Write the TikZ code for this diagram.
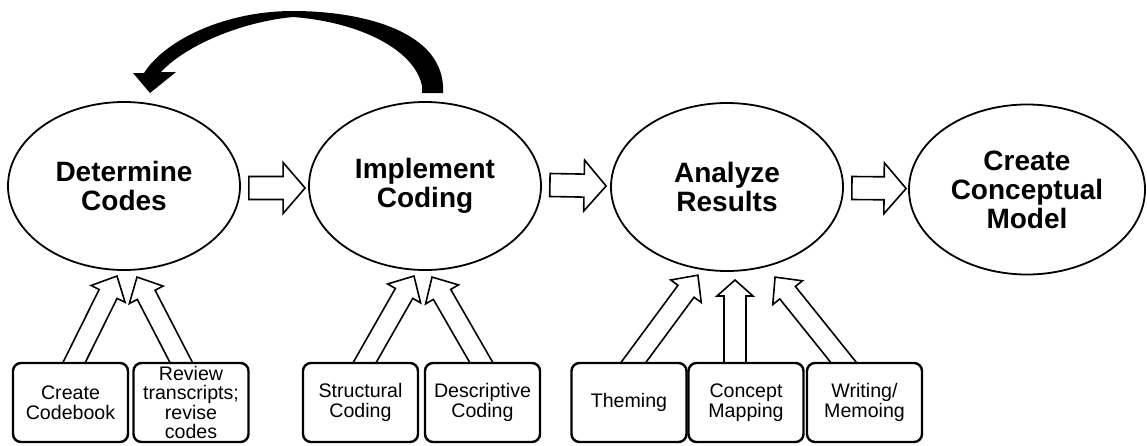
\documentclass[tikz,border=0pt]{standalone}
\usepackage{fontspec}
\setmainfont{Liberation Sans}
\usetikzlibrary{shapes.geometric,calc,backgrounds}

\tikzset{
  stage/.style={ellipse, draw=black, line width=0.9pt, minimum width=116pt, minimum height=84pt,
    inner sep=1pt, align=center, font=\fontsize{14}{14.5}\selectfont\bfseries},
  task/.style={draw=black, fill=white, line width=1.2pt, rounded corners=4pt, minimum width=57.5pt,
    minimum height=39.5pt, inner sep=0pt, align=center, font=\fontsize{9.8}{9.8}\selectfont},
  hollow/.style={draw=black, fill=white, line width=0.8pt, line join=miter},
}

% #1 from, #2 to, #3 half shaft, #4 half head, #5 head length
\newcommand{\hollowarrow}[5]{%
  \path[hollow] let \p1=(#1), \p2=(#2), \n1={atan2(\y2-\y1,\x2-\x1)}, \n2={veclen(\x2-\x1,\y2-\y1)} in
    [shift={(\p1)}, rotate=\n1]
    (0pt,-#3) -- (\n2-#5,-#3) -- (\n2-#5,-#4) -- (\n2,0pt) -- (\n2-#5,#4) -- (\n2-#5,#3) -- (0pt,#3) -- cycle;
}

\begin{document}
\begin{tikzpicture}[x=0.5pt,y=-0.5pt]
\useasboundingbox (0,0) rectangle (1147,445);

%Determine Codes
\node[stage] (e1) at (124,186) {Determine\\Codes};
%Implement Coding
\node[stage] (e2) at (425,186) {Implement\\Coding};
%Analyze Results
\node[stage] (e3) at (727,187) {Analyze\\Results};
%Create Conceptual Model
\node[stage, minimum width=118pt, minimum height=85pt] (e4) at (1027,189.5) {Create\\Conceptual\\Model};

%Create Codebook %Review transcripts
\node[task] (b1) at (70.5,402.5) {Create\\Codebook};
\node[task] (b2) at (191,402.5) {Review\\transcripts;\\revise\\codes};
%Structural %Descriptive
\node[task] (b3) at (360.5,402.5) {Structural\\Coding};
\node[task] (b4) at (482.5,402.5) {Descriptive\\Coding};
%Theming %Concept Mapping %Writing
\node[task] (b5) at (629,402.5) {Theming};
\node[task] (b6) at (746,402.5) {Concept\\Mapping};
\node[task] (b7) at (864.5,402.5) {Writing/\\Memoing};

% arrow ends under the stages
\coordinate (in1) at (117,276);
\coordinate (in2) at (137,277);
\coordinate (in3) at (414,276);
\coordinate (in4) at (432,277);
\coordinate (in5) at (698,275);
\coordinate (in6) at (735,280);
\coordinate (in7) at (775,277);

% stage to stage
\hollowarrow{[xshift=4pt,yshift=-1pt]e1.east}{[xshift=-1.5pt,yshift=-1pt]e2.west}{5.75pt}{12.75pt}{11pt}
\hollowarrow{[xshift=4pt,yshift=0.5pt]e2.east}{[xshift=-2pt,yshift=0.5pt]e3.west}{5.75pt}{12.75pt}{11pt}
\hollowarrow{[xshift=4pt,yshift=-0.5pt]e3.east}{[xshift=-1pt,yshift=0.5pt]e4.west}{5.75pt}{12.75pt}{11pt}

% task to stage
\begin{scope}[on background layer]
\hollowarrow{[yshift=-4pt]b1.north}{in1}{5pt}{9.5pt}{10pt}
\hollowarrow{[xshift=-3pt,yshift=-4pt]b2.north}{in2}{5pt}{9.5pt}{10pt}
\hollowarrow{[yshift=-4pt]b3.north}{in3}{5pt}{9.5pt}{10pt}
\hollowarrow{[xshift=1.5pt,yshift=-4pt]b4.north}{in4}{5pt}{9.5pt}{10pt}
\hollowarrow{[xshift=-0.5pt,yshift=-4pt]b5.north}{in5}{5pt}{9.5pt}{10pt}
\hollowarrow{[xshift=-5.5pt,yshift=-4pt]b6.north}{in6}{5.5pt}{9pt}{8pt}
\hollowarrow{[xshift=-7.5pt,yshift=-4pt]b7.north}{in7}{5pt}{9.5pt}{10pt}
\end{scope}

% loop back
\fill[black] (443,93) -- (443,86) .. controls (440,30) and (360,11) .. (293,11)
  .. controls (225,11) and (165,40) .. (144,73) -- (133,73) -- (150,93) -- (176,72) -- (161,72)
  .. controls (185,46) and (240,22) .. (293,17) .. controls (360,22) and (415,50) .. (422,86)
  -- (422,93) -- cycle;

\end{tikzpicture}
\end{document}
